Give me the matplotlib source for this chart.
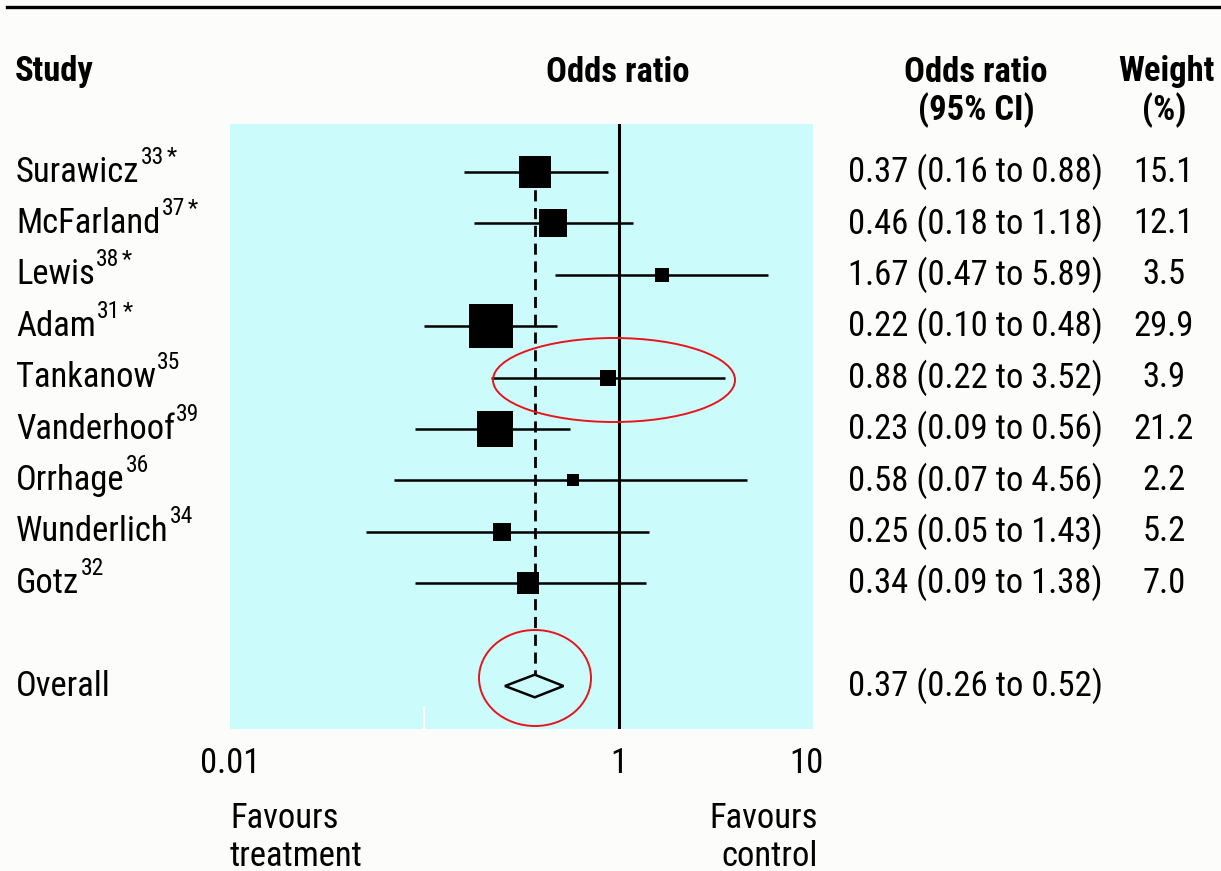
import matplotlib
matplotlib.use("Agg")
import matplotlib.pyplot as plt
from matplotlib.patches import Ellipse, Polygon
from matplotlib.lines import Line2D
from matplotlib.font_manager import FontProperties
import numpy as np
import os
from matplotlib import font_manager

studies = ["Surawicz", "McFarland", "Lewis", "Adam", "Tankanow", "Vanderhoof",
           "Orrhage", "Wunderlich", "Gotz"]
refs = ["33", "37", "38", "31", "35", "39", "36", "34", "32"]
starred = [True, True, True, True, False, False, False, False, False]
odds = [0.37, 0.46, 1.67, 0.22, 0.88, 0.23, 0.58, 0.25, 0.34]
lower = [0.16, 0.18, 0.47, 0.10, 0.22, 0.09, 0.07, 0.05, 0.09]
upper = [0.88, 1.18, 5.89, 0.48, 3.52, 0.56, 4.56, 1.43, 1.38]
weights = [15.1, 12.1, 3.5, 29.9, 3.9, 21.2, 2.2, 5.2, 7.0]
overall = (0.37, 0.26, 0.52)
xticks = [0.01, 1, 10]
xtick_labels = ["0.01", "1", "10"]

# ---- pick a condensed font if one is installed ----
files = [f.fname for f in font_manager.fontManager.ttflist]
def find(patterns):
    for p in patterns:
        for f in files:
            if os.path.basename(f).lower() == p.lower():
                return f
    return None

reg_file = find(["LiberationSansNarrow-Regular.ttf", "RobotoCondensed-Regular.ttf",
                 "OpenSans_Condensed-Regular.ttf", "OpenSansCondensed-Regular.ttf",
                 "DejaVuSansCondensed.ttf"])
bold_file = find(["LiberationSansNarrow-Bold.ttf", "RobotoCondensed-Bold.ttf",
                  "OpenSans_Condensed-Bold.ttf", "OpenSansCondensed-Bold.ttf",
                  "DejaVuSansCondensed-Bold.ttf"])
if reg_file is None:
    for f in files:
        b = os.path.basename(f).lower()
        if ("narrow" in b or "condensed" in b) and "bold" not in b and "italic" not in b \
                and "oblique" not in b and "light" not in b and "semi" not in b:
            reg_file = f
            break
if bold_file is None:
    for f in files:
        b = os.path.basename(f).lower()
        if ("narrow" in b or "condensed" in b) and "bold" in b and "italic" not in b \
                and "oblique" not in b and "semi" not in b and "extra" not in b:
            bold_file = f
            break

def fp(bold=False, size=10):
    f = bold_file if bold else reg_file
    if f is not None:
        return FontProperties(fname=f, size=size)
    return FontProperties(family="DejaVu Sans", weight="bold" if bold else "normal",
                          stretch="condensed", size=size)

W, H = 1221, 871
fig = plt.figure(figsize=(W / 100, H / 100), dpi=100, facecolor="#fcfcfa")
renderer = fig.canvas.get_renderer()

def fx(px):
    return px / W

def fy(py):
    return 1 - py / H

# scale font so CI string spans the reference width (~255 px)
probe = fig.text(0, 0, "0.37 (0.16 to 0.88)", fontproperties=fp(False, 20))
pw = probe.get_window_extent(renderer=renderer).width
probe.remove()
FS = min(29.0, 20 * 255.0 / pw)
probe = fig.text(0, 0, "Odds ratio", fontproperties=fp(True, 20))
bw = probe.get_window_extent(renderer=renderer).width
probe.remove()
FSB = min(29.0, 20 * 143.0 / bw)
SUP = FS * 0.68

ax_l, ax_r, ax_t, ax_b = 230, 813, 124, 729
ax = fig.add_axes([fx(ax_l), fy(ax_b), fx(ax_r) - fx(ax_l), fy(ax_t) - fy(ax_b)])
ax.set_facecolor("#ccfbfb")
ax.set_xscale("log")
ax.set_xlim(0.01, 10)
row_px = 51.4
ax.set_ylim((ax_b - 172) / row_px, (ax_t - 172) / row_px)
for s in ax.spines.values():
    s.set_visible(False)
ax.set_xticks([])
ax.set_yticks([])
ax.minorticks_off()

ys = list(range(len(studies)))
y_over = 10

ax.axvline(1, color="black", lw=2.2, zorder=2)
ax.plot([overall[0], overall[0]], [0, y_over - 0.22], color="black", lw=2.0,
        dashes=(4.0, 2.4), zorder=2)

px_to_pt = 0.72
for y, o, lo, hi, w in zip(ys, odds, lower, upper, weights):
    ax.plot([lo, hi], [y, y], color="black", lw=1.8, zorder=3, solid_capstyle="butt")
    side = 8.0 * np.sqrt(w) * px_to_pt
    ax.plot([o], [y], marker="s", ms=side, color="black", mec="black", mew=0, zorder=4)

o, lo, hi = overall
dh = 0.22
ax.add_patch(Polygon([[lo, y_over], [o, y_over - dh], [hi, y_over], [o, y_over + dh]],
                     closed=True, fill=False, ec="black", lw=1.8, zorder=4))

ax.plot([0.1, 0.1], [(ax_b - 172) / row_px, (708 - 172) / row_px], color="white",
        lw=1.5, zorder=1)

fig.add_artist(Line2D([fx(7), 1.0], [fy(7), fy(7)], color="black", lw=2.4))

def T(x, y, s, bold=False, size=None, **kw):
    return fig.text(x, y, s, fontproperties=fp(bold, size if size else (FSB if bold else FS)),
                    va="center", **kw)

T(fx(15), fy(72), "Study", True, ha="left")
T(fx(618), fy(72), "Odds ratio", True, ha="center")
T(fx(976), fy(72), "Odds ratio", True, ha="center")
T(fx(976), fy(110), "(95% CI)", True, ha="center")
T(fx(1166), fy(72), "Weight", True, ha="center")
T(fx(1164), fy(110), "(%)", True, ha="center")

row_y = [172 + i * row_px for i in range(len(studies))]
for name, ref, st, py in zip(studies, refs, starred, row_y):
    t = T(fx(16), fy(py), name, ha="left")
    bb = t.get_window_extent(renderer=renderer)
    s = T(bb.x1 / W + 0.001, fy(py - 15), ref, size=SUP, ha="left")
    if st:
        sb = s.get_window_extent(renderer=renderer)
        T(sb.x1 / W + 0.002, fy(py - 15), "*", size=SUP, ha="left")

for o_, lo_, hi_, w, py in zip(odds, lower, upper, weights, row_y):
    T(fx(848), fy(py), f"{o_:.2f} ({lo_:.2f} to {hi_:.2f})", ha="left")
    T(fx(1164), fy(py), f"{w:.1f}", ha="center")

py_over = 172 + y_over * row_px
T(fx(16), fy(py_over), "Overall", ha="left")
T(fx(848), fy(py_over), f"{overall[0]:.2f} ({overall[1]:.2f} to {overall[2]:.2f})", ha="left")

for v, lab in zip(xticks, xtick_labels):
    xp = ax.transData.transform((v, 0))[0]
    if v == 10:
        xp -= 7
    T(xp / W, fy(763), lab, ha="center")

T(fx(230), fy(818), "Favours", ha="left")
T(fx(230), fy(856), "treatment", ha="left")
T(fx(818), fy(818), "Favours", ha="right")
T(fx(818), fy(856), "control", ha="right")

fig.add_artist(Ellipse((fx(614), fy(380)), 242 / W, 84 / H, transform=fig.transFigure,
                       fill=False, ec="#e8141c", lw=1.4))
fig.add_artist(Ellipse((fx(535), fy(678)), 112 / W, 96 / H, transform=fig.transFigure,
                       fill=False, ec="#e8141c", lw=1.4))

fig.savefig("out.png", dpi=100, facecolor=fig.get_facecolor())
